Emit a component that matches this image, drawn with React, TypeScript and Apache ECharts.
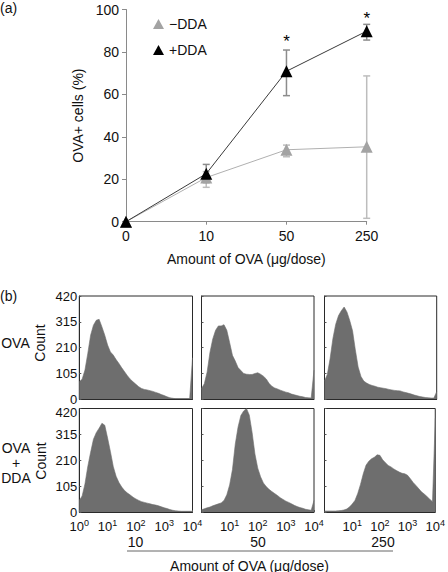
import React, { useEffect, useRef } from "react";
import * as echarts from "echarts";

// ---------- Panel (a) data ----------
const doseCategories = ["0", "10", "50", "250"];
const meanMinusDDA = [0, 20.8, 33.9, 35.3];
const meanPlusDDA = [0, 22.6, 70.9, 89.8];
const errLowMinusDDA = [0, 16.2, 30.6, 1.6];
const errHighMinusDDA = [0, 23.6, 36.1, 68.7];
const errLowPlusDDA = [0, 18.4, 59.4, 85.6];
const errHighPlusDDA = [0, 27.0, 80.9, 93.0];
const sigIndex = [2, 3];
const sigValue = [86.7, 97.6];
const seriesNames = ["\u2212DDA", "+DDA"];

// ---------- Panel (b) data: counts per 0.1-decade bin, 10^0 .. 10^4 ----------
const histOva10 = [70, 81, 118, 186, 260, 301, 321, 325, 294, 260, 220, 192, 179, 161, 145, 127, 111, 95, 81, 70, 60, 50, 43, 39, 37, 34, 31, 27, 23, 18, 14, 9, 5, 3, 1, 1, 1, 1, 1, 1, 168];
const histOva50 = [43, 62, 110, 190, 245, 280, 298, 298, 303, 280, 230, 178, 155, 128, 116, 104, 101, 100, 100, 104, 107, 101, 93, 82, 64, 52, 45, 41, 36, 32, 28, 25, 20, 17, 14, 11, 9, 6, 5, 4, 118];
const histOva250 = [73, 100, 165, 247, 305, 340, 360, 375, 355, 320, 278, 200, 130, 92, 73, 65, 59, 55, 52, 48, 46, 44, 42, 39, 37, 35, 34, 33, 29, 26, 23, 20, 16, 13, 10, 8, 6, 5, 4, 4, 30];
const histDDA10 = [47, 65, 114, 185, 242, 295, 322, 340, 360, 352, 300, 245, 185, 145, 120, 101, 87, 77, 69, 60, 53, 47, 42, 39, 36, 33, 30, 28, 25, 21, 17, 14, 10, 7, 5, 4, 3, 3, 3, 3, 3];
const histDDA50 = [9, 13, 17, 20, 25, 29, 33, 37, 47, 70, 110, 172, 275, 345, 392, 410, 420, 393, 322, 235, 178, 143, 118, 103, 92, 83, 75, 67, 58, 51, 44, 39, 33, 27, 22, 18, 15, 11, 9, 7, 47];
const histDDA250 = [4, 4, 4, 4, 4, 5, 6, 8, 12, 20, 32, 47, 75, 112, 155, 190, 206, 216, 222, 232, 230, 212, 200, 189, 183, 175, 168, 162, 157, 155, 149, 135, 120, 108, 95, 82, 73, 63, 52, 42, 380];
const histBinWidth = 0.1; // decades per bin
const decadeSup = ["0", "1", "2", "3", "4"];
const doseGroups = ["10", "50", "250"];

const FONT = "'Liberation Sans', Arial, Helvetica, sans-serif";

export default function App() {
  const ref = useRef<HTMLDivElement>(null);

  useEffect(() => {
    if (!ref.current) return;
    const chart = echarts.init(ref.current, undefined, { renderer: "svg" });

    const errRender = (color: string, width: number) => (params: any, api: any) => {
      const x = api.value(0);
      const lo = api.coord([x, api.value(1)]);
      const hi = api.coord([x, api.value(2)]);
      const hw = 3.5;
      const style = { stroke: color, lineWidth: width };
      return {
        type: "group",
        children: [
          { type: "line", shape: { x1: lo[0], y1: lo[1], x2: hi[0], y2: hi[1] }, style },
          { type: "line", shape: { x1: lo[0] - hw, y1: lo[1], x2: lo[0] + hw, y2: lo[1] }, style },
          { type: "line", shape: { x1: hi[0] - hw, y1: hi[1], x2: hi[0] + hw, y2: hi[1] }, style },
        ],
      };
    };

    const errData = (lo: number[], hi: number[]) =>
      lo.map((l, i) => [i, l, hi[i]]).filter((d) => d[2] - d[1] > 0);

    // significance asterisks drawn as text at data coordinates
    const sigRender = (params: any, api: any) => {
      const p = api.coord([api.value(0), api.value(1)]);
      return {
        type: "text",
        x: p[0],
        y: p[1] + 4,
        style: {
          text: "*",
          fill: "#000",
          fontSize: 17,
          fontFamily: FONT,
          align: "center",
          verticalAlign: "middle",
        },
      };
    };

    // histogram panels layout
    const colLeft = [79.3, 201.5, 324.5];
    const colWidth = [113.2, 112.5, 112.2];
    const rowTop = [296, 408.5];
    const rowHeight = [103, 103.5];
    const hists = [
      [histOva10, histOva50, histOva250],
      [histDDA10, histDDA50, histDDA250],
    ];

    const grids: any[] = [{ left: 126, top: 9.5, width: 240.7, height: 212.2 }];
    const xAxes: any[] = [
      {
        type: "category",
        gridIndex: 0,
        data: doseCategories,
        boundaryGap: false,
        axisLine: { lineStyle: { color: "#8a8a8a", width: 1 } },
        axisTick: { show: true, length: 3, lineStyle: { color: "#8a8a8a" } },
        axisLabel: { color: "#111", fontSize: 14, fontFamily: FONT, margin: 7 },
        name: "Amount of OVA (\u03bcg/dose)",
        nameLocation: "middle",
        nameGap: 30,
        nameTextStyle: { color: "#111", fontSize: 14, fontFamily: FONT },
      },
    ];
    const yAxes: any[] = [
      {
        type: "value",
        gridIndex: 0,
        min: 0,
        max: 100,
        interval: 20,
        axisLine: { show: true, lineStyle: { color: "#8a8a8a", width: 1 } },
        axisTick: { show: true, length: 4, lineStyle: { color: "#8a8a8a" } },
        axisLabel: { color: "#111", fontSize: 14, fontFamily: FONT, margin: 7 },
        splitLine: { show: false },
        name: "OVA+ cells (%)",
        nameLocation: "middle",
        nameGap: 36,
        nameTextStyle: { color: "#111", fontSize: 14, fontFamily: FONT },
      },
    ];

    const series: any[] = [
      {
        type: "custom",
        name: "errMinus",
        xAxisIndex: 0,
        yAxisIndex: 0,
        z: 1,
        renderItem: errRender("#bdbdbd", 1.5),
        encode: { x: 0, y: [1, 2] },
        data: errData(errLowMinusDDA, errHighMinusDDA),
      },
      {
        type: "custom",
        name: "errPlus",
        xAxisIndex: 0,
        yAxisIndex: 0,
        z: 1,
        renderItem: errRender("#8c8c8c", 1.5),
        encode: { x: 0, y: [1, 2] },
        data: errData(errLowPlusDDA, errHighPlusDDA),
      },
      {
        type: "line",
        name: seriesNames[0],
        xAxisIndex: 0,
        yAxisIndex: 0,
        z: 2,
        data: meanMinusDDA,
        symbol: "triangle",
        symbolSize: 12,
        showAllSymbol: true,
        lineStyle: { color: "#b0b0b0", width: 1 },
        itemStyle: { color: "#a3a3a3" },
      },
      {
        type: "line",
        name: seriesNames[1],
        xAxisIndex: 0,
        yAxisIndex: 0,
        z: 3,
        data: meanPlusDDA,
        symbol: "triangle",
        symbolSize: 12,
        showAllSymbol: true,
        lineStyle: { color: "#3a3a3a", width: 1 },
        itemStyle: { color: "#000" },
      },
      {
        type: "custom",
        name: "sig",
        xAxisIndex: 0,
        yAxisIndex: 0,
        z: 4,
        renderItem: sigRender,
        encode: { x: 0, y: 1 },
        data: sigIndex.map((c, i) => [c, sigValue[i]]),
      },
    ];

    for (let r = 0; r < 2; r++) {
      for (let c = 0; c < 3; c++) {
        const gi = grids.length;
        grids.push({
          left: colLeft[c],
          top: rowTop[r],
          width: colWidth[c],
          height: rowHeight[r],
          show: true,
          borderColor: "#2a2a2a",
          borderWidth: 1,
          backgroundColor: "transparent",
        });
        xAxes.push({
          type: "value",
          gridIndex: gi,
          min: 0,
          max: 4,
          interval: 1,
          axisLine: { show: true, lineStyle: { color: "#2a2a2a" } },
          axisTick: { show: r === 1, inside: true, length: 2, lineStyle: { color: "#555" } },
          splitLine: { show: false },
          axisLabel: {
            show: r === 1,
            showMinLabel: c === 0,
            margin: 6,
            formatter: (v: number) => `{b|10}{s|${decadeSup[Math.round(v)]}}`,
            rich: {
              b: { fontSize: 13, fontFamily: FONT, color: "#111", lineHeight: 16 },
              s: { fontSize: 9, fontFamily: FONT, color: "#111", verticalAlign: "top", lineHeight: 9 },
            },
          },
        });
        yAxes.push({
          type: "value",
          gridIndex: gi,
          min: 0,
          max: 420,
          interval: 105,
          axisLine: { show: true, lineStyle: { color: "#2a2a2a" } },
          axisTick: { show: true, inside: true, length: 2, lineStyle: { color: "#555" } },
          splitLine: { show: false },
          axisLabel: {
            show: c === 0,
            color: "#111",
            fontSize: 13,
            fontFamily: FONT,
            margin: 2,
            formatter: (v: number) => (r === 1 && v === 420 ? `{m|${v}}` : `${v}`),
            rich: {
              m: { fontSize: 13, fontFamily: FONT, color: "#111", padding: [8, 0, 0, 0] },
            },
          },
        });
        series.push({
          type: "line",
          name: `hist-${r}-${c}`,
          xAxisIndex: gi,
          yAxisIndex: gi,
          symbol: "none",
          silent: true,
          lineStyle: { color: "#6e6e6e", width: 0.6 },
          areaStyle: { color: "#6e6e6e", opacity: 1 },
          data: hists[r][c].map((v, i) => [i * histBinWidth, v]),
        });
      }
    }

    const txt = (text: string, x: number, y: number, extra: any = {}) => ({
      type: "text",
      x,
      y,
      silent: true,
      ...extra,
      style: {
        text,
        fill: "#111",
        fontSize: 14,
        fontFamily: FONT,
        align: "center",
        verticalAlign: "middle",
        ...(extra.style || {}),
      },
    });

    const graphic: any[] = [
      txt("(a)", 0, 8, { style: { align: "left" } }),
      txt("(b)", 0, 296, { style: { align: "left" } }),
      txt("OVA", 15.5, 343),
      txt("OVA\n+\nDDA", 16, 463, { style: { lineHeight: 15 } }),
      txt("Count", 40, 343, { rotation: Math.PI / 2 }),
      txt("Count", 41, 461, { rotation: Math.PI / 2 }),
      txt(doseGroups[0], 135.5, 542),
      txt(doseGroups[1], 258, 542),
      txt(doseGroups[2], 383, 542),
      {
        type: "line",
        silent: true,
        shape: { x1: 127, y1: 551, x2: 393, y2: 551 },
        style: { stroke: "#666", lineWidth: 1 },
      },
      txt("Amount of OVA (\u03bcg/dose)", 249.5, 565.5),
    ];

    chart.setOption({
      animation: false,
      backgroundColor: "#fff",
      textStyle: { fontFamily: FONT },
      legend: {
        data: seriesNames,
        orient: "vertical",
        left: 148,
        top: 12,
        icon: "triangle",
        itemWidth: 11,
        itemHeight: 10,
        itemGap: 12,
        textStyle: { color: "#111", fontSize: 14, fontFamily: FONT },
        selectedMode: false,
      },
      grid: grids,
      xAxis: xAxes,
      yAxis: yAxes,
      series,
      graphic,
    });

    return () => chart.dispose();
  }, []);

  return (
    <div
      ref={ref}
      style={{ position: "fixed", left: 0, top: 0, width: 448, height: 572, background: "#fff" }}
    />
  );
}
